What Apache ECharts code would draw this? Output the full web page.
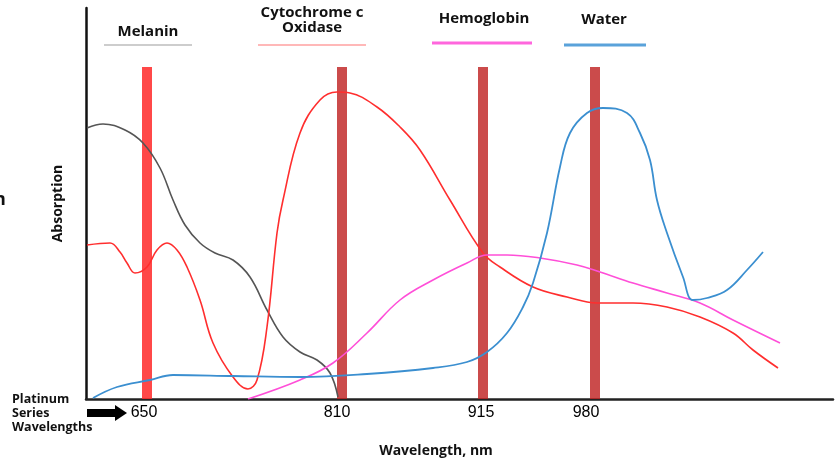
<!DOCTYPE html>
<html><head><meta charset="utf-8">
<script src="https://cdn.jsdelivr.net/npm/echarts@6/dist/echarts.min.js"></script>
<style>html,body{margin:0;padding:0;background:#fff}#c{width:836px;height:464px}</style>
</head><body><div id="c"></div>
<script>
// Wavelength marker labels and their positions along the (non-linear) wavelength axis
const wavelengthLabels = ['650', '810', '915', '980'];
const markerPositions = [61, 256, 397, 509];
const labelPositions = [58, 251, 395, 500];
const markerHeight = [332, 332, 332, 332];

// Absorption curves: [axis position, absorption]
const melanin = [[1,271],[17,275],[39,269],[57,256],[74,231],[87,199],[99,174],[114,156],[129,146],[147,139],[164,122],[181,89],[197,62],[214,47],[231,39],[244,26],[252,2]];
const cytochrome = [[1,154],[24,156],[34,147],[41,136],[49,126],[61,132],[71,149],[81,156],[91,149],[101,132],[114,99],[127,56],[147,22],[162,10],[171,19],[181,72],[191,166],[197,199],[214,266],[234,299],[251,307],[264,306],[291,292],[314,272],[334,249],[364,199],[397,146],[414,132],[447,112],[481,102],[511,96],[547,96],[581,92],[614,82],[647,66],[667,49],[692,31]];
const hemoglobin = [[162,0],[214,19],[247,36],[281,66],[314,99],[347,119],[381,136],[401,144],[421,144],[454,141],[491,134],[514,127],[547,116],[581,106],[614,96],[647,79],[694,56]];
const water = [[7,1],[31,12],[64,19],[87,24],[147,23],[214,22],[281,25],[347,31],[381,37],[401,47],[421,66],[437,92],[447,116],[461,166],[474,232],[484,266],[501,286],[517,291],[541,286],[554,266],[564,239],[571,199],[581,166],[597,122],[607,99],[621,101],[641,109],[661,129],[677,147]];

const legendNames = ['Melanin', 'Cytochrome c\nOxidase', 'Hemoglobin', 'Water'];

const chart = echarts.init(document.getElementById('c'), null, {renderer: 'canvas'});
const barColors = ['rgba(255,40,40,0.85)', 'rgba(190,30,30,0.8)', 'rgba(190,30,30,0.8)', 'rgba(190,30,30,0.8)'];
const font = '"Open Sans", "Noto Sans", sans-serif';

chart.setOption({
  animation: false,
  grid: {left: 86, right: 3, top: 8, bottom: 65},
  xAxis: {
    type: 'value', min: 0, max: 747,
    splitLine: {show: false},
    axisLine: {show: true, lineStyle: {color: '#222', width: 2.5}},
    axisTick: {show: false},
    axisLabel: {
      customValues: labelPositions,
      formatter: v => wavelengthLabels[labelPositions.indexOf(v)] || '',
      color: '#000', fontSize: 16, fontFamily: '"Liberation Sans", Arial, sans-serif', margin: 6
    }
  },
  yAxis: {
    type: 'value', min: 0, max: 391,
    splitLine: {show: false},
    axisLine: {show: true, lineStyle: {color: '#111', width: 2.5}},
    axisTick: {show: false},
    axisLabel: {show: false},
    name: 'Absorption', nameLocation: 'middle', nameGap: 21, nameRotate: 90,
    nameTextStyle: {fontSize: 14, fontWeight: 'bold', color: '#111', fontFamily: font}
  },
  series: [
    {type: 'bar', barWidth: 10, z: 1,
     data: markerPositions.map((p, i) => ({value: [p, markerHeight[i]], itemStyle: {color: barColors[i]}}))},
    {name: 'Melanin', type: 'line', smooth: 0.4, symbol: 'none', z: 3, data: melanin,
     lineStyle: {color: '#555', width: 1.6}},
    {name: 'Cytochrome', type: 'line', smooth: 0.4, symbol: 'none', z: 3, data: cytochrome,
     lineStyle: {color: '#ff2e2e', width: 1.6}},
    {name: 'Hemoglobin', type: 'line', smooth: 0.4, symbol: 'none', z: 3, data: hemoglobin,
     lineStyle: {color: '#ff4fd8', width: 1.6}},
    {name: 'Water', type: 'line', smooth: 0.4, symbol: 'none', z: 3, data: water,
     lineStyle: {color: '#3b8fd0', width: 1.8}}
  ],
  graphic: [
    {type: 'text', x: 148, y: 32, style: {text: legendNames[0], align: 'center', verticalAlign: 'middle', font: 'bold 15px ' + font, fill: '#111'}},
    {type: 'line', shape: {x1: 104, y1: 45, x2: 192, y2: 45}, style: {stroke: '#bdbdbd', lineWidth: 1.5}},
    {type: 'text', x: 312, y: 20, style: {text: legendNames[1], align: 'center', verticalAlign: 'middle', font: 'bold 15px ' + font, fill: '#111', lineHeight: 15}},
    {type: 'line', shape: {x1: 258, y1: 45, x2: 366, y2: 45}, style: {stroke: '#ffa0a0', lineWidth: 1.5}},
    {type: 'text', x: 484, y: 19, style: {text: legendNames[2], align: 'center', verticalAlign: 'middle', font: 'bold 15px ' + font, fill: '#111'}},
    {type: 'line', shape: {x1: 432, y1: 43, x2: 532, y2: 43}, style: {stroke: '#ff66dd', lineWidth: 3}},
    {type: 'text', x: 604, y: 20, style: {text: legendNames[3], align: 'center', verticalAlign: 'middle', font: 'bold 15px ' + font, fill: '#111'}},
    {type: 'line', shape: {x1: 564, y1: 45, x2: 646, y2: 45}, style: {stroke: '#5aa2da', lineWidth: 3}},
    {type: 'text', x: 436, y: 451, style: {text: 'Wavelength, nm', align: 'center', verticalAlign: 'middle', font: 'bold 14px ' + font, fill: '#111'}},
    {type: 'text', x: 12, y: 392, style: {text: 'Platinum\nSeries\nWavelengths', font: 'bold 12.5px ' + font, fill: '#111', lineHeight: 14}},
    {type: 'polygon', shape: {points: [[87,409],[115,409],[115,405],[127,413],[115,421],[115,417],[87,417]]}, style: {fill: '#000'}},
    {type: 'text', x: -6, y: 200, style: {text: 'n', verticalAlign: 'middle', font: 'bold 18px ' + font, fill: '#111'}}
  ]
});
</script></body></html>
